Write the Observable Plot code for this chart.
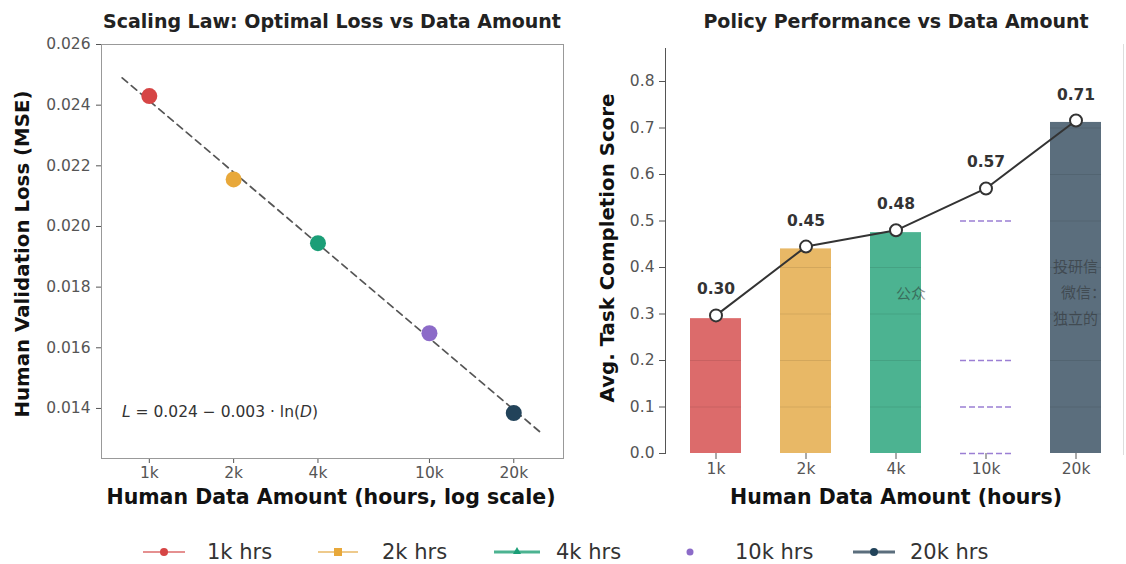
<!DOCTYPE html>
<html><head><meta charset="utf-8">
<script src="https://cdn.jsdelivr.net/npm/d3@7"></script>
<script src="https://cdn.jsdelivr.net/npm/@observablehq/plot@0.6"></script>
<style>
body{margin:0;width:1126px;height:564px;position:relative;background:#fff;overflow:hidden;font-family:"DejaVu Sans",sans-serif;}
.abs{position:absolute;white-space:nowrap;}
.c{transform:translate(-50%,-50%);}
.ttl{font-weight:bold;font-size:19px;color:#222;}
.lab{font-weight:bold;font-size:20.5px;color:#111;}
.ylab{font-weight:bold;font-size:19.8px;color:#111;}
.leg{font-size:21px;color:#333;transform:translateY(-50%);}
.wm{font-family:"Noto Sans CJK SC",sans-serif;font-size:15px;color:rgba(40,40,40,0.5);}
</style></head>
<body>
<div id="left" class="abs" style="left:0;top:0"></div>
<div id="right" class="abs" style="left:580px;top:0"></div>
<script>
// ---- data ----
const hours = [1000, 2000, 4000, 10000, 20000];
const cats = ["1k", "2k", "4k", "10k", "20k"];
const lossVals = [0.0243, 0.02155, 0.01945, 0.01648, 0.01385];
const fitD = [800, 25000];
const fitL = [0.0249, 0.0132];
const dotColors = ["#d64545", "#e8a83a", "#1b9e77", "#8c6bc8", "#22435a"];
const barColors = ["#dc6b6b", "#e8b866", "#4cb391", "#ffffff", "#5b6e7d"];
const barVals = [0.29, 0.44, 0.475, null, 0.712];
const scoreVals = [0.297, 0.445, 0.48, 0.57, 0.716];
const scoreLabels = ["0.30", "0.45", "0.48", "0.57", "0.71"];
const lossTicks = [0.014, 0.016, 0.018, 0.020, 0.022, 0.024, 0.026];
const scoreTicks = [0, 0.1, 0.2, 0.3, 0.4, 0.5, 0.6, 0.7, 0.8];
const dash10k = [0, 0.1, 0.2, 0.5];
const legendLabels = ["1k hrs", "2k hrs", "4k hrs", "10k hrs", "20k hrs"];

const lossData = hours.map((d, i) => ({d, l: lossVals[i], color: dotColors[i]}));
const fitData = fitD.map((d, i) => ({d, l: fitL[i]}));
const scoreData = cats.map((c, i) => ({cat: c, bar: barVals[i], score: scoreVals[i], label: scoreLabels[i], color: barColors[i]}));
// grid segments seen only across the bars
const gridOnBars = scoreData.filter(d => d.bar != null)
  .flatMap(d => scoreTicks.slice(1).filter(t => t < d.bar).map(t => ({cat: d.cat, y: t})));

const baseStyle = {fontFamily: "DejaVu Sans", fontSize: "15.5px", color: "#555", background: "transparent", overflow: "visible"};

// ---- left chart ----
const left = Plot.plot({
  width: 580, height: 520,
  marginLeft: 101, marginRight: 17, marginTop: 44, marginBottom: 62,
  style: baseStyle,
  x: {type: "log", domain: [675, 30100], ticks: hours, tickFormat: d => cats[hours.indexOf(d)], tickSize: 5, tickPadding: 3, label: null},
  y: {domain: [0.01235, 0.026], ticks: lossTicks, tickFormat: d3.format(".3f"), tickSize: 5, tickPadding: 6, label: null},
  color: {type: "identity"},
  marks: [
    Plot.frame({stroke: "#999"}),
    Plot.line(fitData, {x: "d", y: "l", stroke: "#555", strokeWidth: 1.7, strokeDasharray: "7,5"}),
    Plot.dot(lossData, {x: "d", y: "l", fill: "color", r: 8})
  ]
});
document.getElementById("left").appendChild(left);

// ---- right chart ----
const right = Plot.plot({
  width: 546, height: 520,
  marginLeft: 85, marginRight: 0, marginTop: 48, marginBottom: 67,
  style: baseStyle,
  x: {domain: cats, paddingInner: 0.43, paddingOuter: 0.25, tickSize: 6, tickPadding: 3, label: null},
  y: {domain: [0, 0.871], ticks: scoreTicks, tickFormat: d3.format(".1f"), tickSize: 6, tickPadding: 5, line: true, label: null},
  color: {type: "identity"},
  marks: [
    Plot.barY(scoreData.filter(d => d.bar != null), {x: "cat", y: "bar", fill: "color"}),
    Plot.tickY(gridOnBars, {x: "cat", y: "y", stroke: "#000", strokeOpacity: 0.09}),
    Plot.tickY(dash10k, {x: () => "10k", y: d => d, stroke: "#9b7fd4", strokeWidth: 1.3, strokeDasharray: "6,3"}),
    Plot.line(scoreData, {x: "cat", y: "score", stroke: "#333", strokeWidth: 2}),
    Plot.dot(scoreData, {x: "cat", y: "score", r: 6, fill: "#fff", stroke: "#333", strokeWidth: 2}),
    Plot.text(scoreData, {x: "cat", y: "score", text: "label", dy: -26, fontWeight: "bold", fontSize: 15.5, fill: "#333"})
  ]
});
document.getElementById("right").appendChild(right);
</script>

<!-- titles and labels -->
<div class="abs c ttl" style="left:332px;top:21px">Scaling Law: Optimal Loss vs Data Amount</div>
<div class="abs c ttl" style="left:896px;top:21px">Policy Performance vs Data Amount</div>
<div class="abs c lab" style="left:331px;top:497px">Human Data Amount (hours, log scale)</div>
<div class="abs c lab" style="left:896px;top:497px">Human Data Amount (hours)</div>
<div class="abs ylab" style="left:22px;top:254px;transform:translate(-50%,-50%) rotate(-90deg)">Human Validation Loss (MSE)</div>
<div class="abs ylab" style="left:607px;top:248px;transform:translate(-50%,-50%) rotate(-90deg)">Avg. Task Completion Score</div>
<div class="abs" style="left:122px;top:403px;font-size:15.5px;color:#333"><i>L</i> = 0.024 − 0.003 · ln(<i>D</i>)</div>
<div class="abs" style="left:1123px;top:44px;width:1px;height:411px;background:#ddd"></div>

<!-- watermark fragments visible over bars -->
<span class="abs wm" style="left:896px;top:282px">公众</span>
<span class="abs wm" style="left:1053px;top:255px">投研信</span>
<span class="abs wm" style="left:1061px;top:281px">微信：</span>
<span class="abs wm" style="left:1053px;top:307px">独立的</span>

<!-- legend -->
<svg class="abs" style="left:0;top:537px" width="1126" height="30">
  <line x1="143" y1="15" x2="185" y2="15" stroke="#dc6b6b" stroke-width="1.5"/><circle cx="164" cy="15" r="4" fill="#d64545"/>
  <line x1="318" y1="15" x2="358" y2="15" stroke="#e8b866" stroke-width="1.5"/><rect x="334" y="11" width="8" height="8" fill="#e8a83a"/>
  <line x1="494" y1="15" x2="540" y2="15" stroke="#4cb391" stroke-width="3"/><path d="M517,10 L521,17 L513,17 Z" fill="#1b9e77"/>
  <circle cx="690" cy="15" r="3.5" fill="#8c6bc8"/>
  <line x1="853" y1="15" x2="895" y2="15" stroke="#5b6e7d" stroke-width="3"/><circle cx="874" cy="15" r="4" fill="#22435a"/>
</svg>
<div class="abs leg" style="left:207px;top:552px">1k hrs</div>
<div class="abs leg" style="left:382px;top:552px">2k hrs</div>
<div class="abs leg" style="left:556px;top:552px">4k hrs</div>
<div class="abs leg" style="left:735px;top:552px">10k hrs</div>
<div class="abs leg" style="left:910px;top:552px">20k hrs</div>
</body></html>
